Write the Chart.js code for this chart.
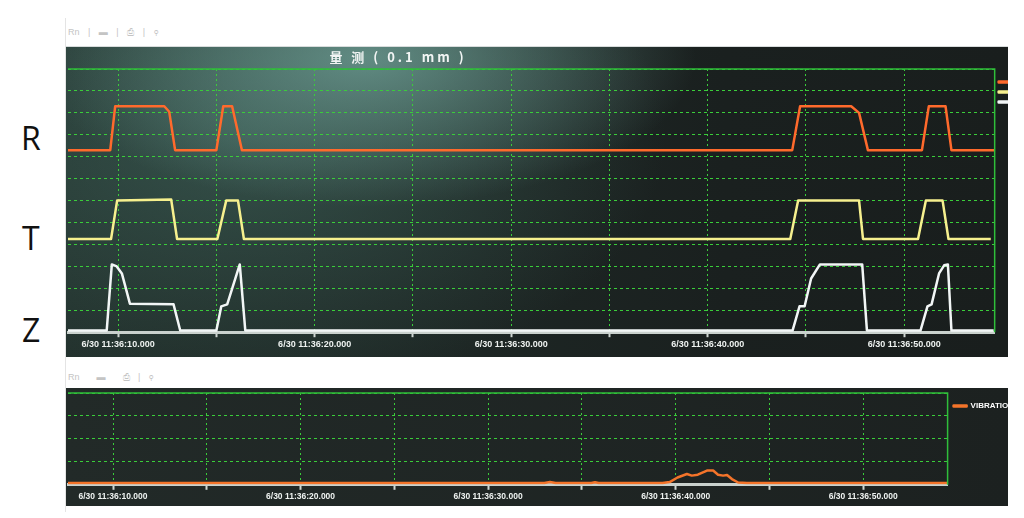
<!DOCTYPE html>
<html lang="en">
<head>
    <meta charset="UTF-8">
    <title>量测 (0.1 mm)</title>
    <style>
        body {
            margin: 0;
            width: 1024px;
            height: 518px;
            background: #ffffff;
            position: relative;
            overflow: hidden;
            font-family: "Liberation Sans", Arial, sans-serif;
        }
        .edge {
            position: absolute;
            left: 65px;
            top: 18px;
            width: 1px;
            height: 494px;
            background: #e4e4e4;
        }
        .axis-name {
            position: absolute;
            font-family: "Open Sans", sans-serif;
            font-size: 32px;
            line-height: 32px;
            color: #111;
        }
        .toolbar {
            position: absolute;
            left: 68px;
            font-size: 9px;
            color: #c4c4c4;
            word-spacing: 6px;
        }
        .panel {
            position: absolute;
            left: 66px;
            width: 942px;
            overflow: hidden;
        }
        #top-panel {
            top: 46px;
            height: 310px;
            background:
                radial-gradient(ellipse 330px 150px at 300px 10px, rgba(120, 172, 162, 0.7), rgba(120, 172, 162, 0) 100%),
                radial-gradient(ellipse 420px 260px at 180px 90px, rgba(70, 112, 102, 0.55), rgba(70, 112, 102, 0) 100%),
                linear-gradient(to right, #22302c, #1a201f 70%, #191e1d);
            border-top: 1px solid #d8dcdc;
        }
        #bottom-panel {
            top: 388px;
            height: 118px;
            background: linear-gradient(to right, #222a28, #1c2120);
        }
        .chart-box {
            position: absolute;
            left: 0;
            top: 0;
            height: 100%;
        }
        #top-title {
            position: absolute;
            left: 242px;
            top: 3px;
            width: 180px;
            text-align: center;
            color: #f2f5f4;
            font-family: "Noto Sans CJK SC", "Liberation Sans", sans-serif;
            font-weight: bold;
            font-size: 13px;
            line-height: 14px;
            letter-spacing: 3px;
            z-index: 2;
        }
    </style>
</head>
<body>
    <div class="edge"></div>
    <div class="toolbar" style="top:27px;">Rn | ▬ | ⎙ | ⚲</div>
    <div class="toolbar" style="top:372px;">Rn &nbsp;▬ &nbsp;⎙ | ⚲</div>

    <div class="axis-name" style="left:21px; top:122px;">R</div>
    <div class="axis-name" style="left:22px; top:222px;">T</div>
    <div class="axis-name" style="left:22px; top:314px;">Z</div>

    <div class="panel" id="top-panel">
        <div id="top-title">量 测 ( 0.1 mm )</div>
        <div class="chart-box" style="width:960px;"><canvas id="top-chart"></canvas></div>
    </div>
    <div class="panel" id="bottom-panel">
        <div class="chart-box" style="width:958px;"><canvas id="bottom-chart"></canvas></div>
    </div>

    <script src="https://cdn.jsdelivr.net/npm/chart.js"></script>
    <script>
        // time axis, seconds after 11:36:00
        const gridSeconds = [10, 15, 20, 25, 30, 35, 40, 45, 50];
        const tickLabels = ['6/30 11:36:10.000', '', '6/30 11:36:20.000', '', '6/30 11:36:30.000', '',
                            '6/30 11:36:40.000', '', '6/30 11:36:50.000'];

        // R trace (offset band at the top)
        const rTime = [7.45, 9.6, 9.85, 12.35, 12.6, 12.9, 15.0, 15.35, 15.8, 16.3,
                       44.3, 44.7, 47.3, 47.7, 48.15, 50.9, 51.25, 52.1, 52.4, 54.6];
        const rVal  = [8.3, 8.3, 10.3, 10.3, 10.05, 8.3, 8.3, 10.3, 10.3, 8.3,
                       8.3, 10.3, 10.3, 10.0, 8.3, 8.3, 10.3, 10.3, 8.3, 8.3];

        // T trace
        const tTime = [7.45, 9.64, 9.95, 12.7, 13.0, 15.05, 15.5, 16.1, 16.4,
                       44.2, 44.6, 47.7, 47.9, 50.7, 51.1, 51.95, 52.25, 54.4];
        const tVal  = [4.25, 4.25, 6.0, 6.05, 4.25, 4.25, 6.0, 6.0, 4.25,
                       4.25, 6.0, 6.0, 4.25, 4.25, 6.0, 6.0, 4.25, 4.25];

        // Z trace
        const zTime = [7.45, 9.42, 9.68, 9.93, 10.19, 10.6, 12.82, 13.16, 15.0, 15.25, 15.55, 16.19, 16.47,
                       44.32, 44.67, 44.93, 45.26, 45.71, 47.86, 48.1, 50.83, 51.18, 51.39, 51.77, 52.03, 52.22, 52.4, 54.55];
        const zVal  = [0.08, 0.08, 3.09, 3.0, 2.68, 1.3, 1.27, 0.08, 0.08, 1.18, 1.27, 3.09, 0.08,
                       0.08, 1.18, 1.18, 2.45, 3.09, 3.09, 0.08, 0.08, 1.18, 1.27, 2.68, 3.05, 3.09, 0.08, 0.08];

        // vibration trace (lower chart)
        const vibTime = [7.6, 33.0, 33.3, 33.6, 35.5, 35.7, 35.9, 39.3, 39.68, 40.1, 40.6, 40.86, 41.18,
                         41.67, 42.0, 42.26, 42.53, 42.74, 43.0, 43.33, 43.8, 54.5];
        const vibVal  = [0.08, 0.08, 0.12, 0.08, 0.08, 0.11, 0.08, 0.08, 0.12, 0.32, 0.47, 0.4, 0.44,
                         0.62, 0.62, 0.44, 0.4, 0.43, 0.25, 0.1, 0.08, 0.08];

        const gridGreen = 'rgb(58, 205, 58)';
        const frameGreen = '#2fbf3a';
        const labelFont = { family: '"Liberation Sans", Arial, sans-serif', weight: 'bold', size: 9 };

        function toPoints(xs, ys) {
            return xs.map((x, i) => ({ x: x, y: ys[i] }));
        }

        // solid green top + right edge of the plot area
        const framePlugin = {
            id: 'frame',
            afterDatasetsDraw(chart) {
                const a = chart.chartArea;
                const ctx = chart.ctx;
                ctx.save();
                ctx.strokeStyle = frameGreen;
                ctx.lineWidth = 1.5;
                ctx.beginPath();
                ctx.moveTo(a.left, a.top);
                ctx.lineTo(a.right, a.top);
                ctx.lineTo(a.right, a.bottom);
                ctx.stroke();
                ctx.restore();
            }
        };

        function timeAxis(min, max, fontSize) {
            return {
                type: 'linear',
                min: min,
                max: max,
                afterBuildTicks: axis => { axis.ticks = gridSeconds.map(v => ({ value: v })); },
                grid: {
                    color: gridGreen,
                    lineWidth: 1,
                    tickLength: 5,
                    tickColor: '#cfd6d2',
                    tickBorderDash: [],
                    tickWidth: 2
                },
                border: { color: '#c9d1cd', width: 3, dash: [2, 3] },
                ticks: {
                    autoSkip: false,
                    maxRotation: 0,
                    padding: 2,
                    color: '#eef2f0',
                    font: Object.assign({}, labelFont, { size: fontSize }),
                    callback: (v, i) => tickLabels[i]
                }
            };
        }

        function levelAxis(max) {
            return {
                min: 0,
                max: max,
                ticks: { display: false, stepSize: 1 },
                grid: { color: gridGreen, lineWidth: 1, drawTicks: false },
                border: { display: false, dash: [3, 3] }
            };
        }

        const lineDefaults = { pointRadius: 0, borderWidth: 2.5, tension: 0, borderJoinStyle: 'round', fill: false };

        new Chart(document.getElementById('top-chart'), {
            type: 'line',
            data: {
                datasets: [
                    Object.assign({ label: 'R', data: toPoints(rTime, rVal), borderColor: '#ff6a2c', backgroundColor: '#ff6a2c' }, lineDefaults),
                    Object.assign({ label: 'T', data: toPoints(tTime, tVal), borderColor: '#f6f08e', backgroundColor: '#f6f08e' }, lineDefaults),
                    Object.assign({ label: 'Z', data: toPoints(zTime, zVal), borderColor: '#f2f6f6', backgroundColor: '#f2f6f6' }, lineDefaults)
                ]
            },
            options: {
                responsive: true,
                maintainAspectRatio: false,
                animation: false,
                layout: { padding: { left: 2, top: 22, right: 0, bottom: 5 } },
                scales: {
                    x: timeAxis(7.45, 54.6, 9),
                    y: levelAxis(12)
                },
                plugins: {
                    tooltip: { enabled: false },
                    legend: {
                        position: 'right',
                        align: 'start',
                        title: { display: true, text: '', padding: 0, font: { size: 6, lineHeight: 1 } },
                        labels: {
                            boxWidth: 10,
                            boxHeight: 1,
                            padding: 4,
                            color: '#ffffff',
                            font: { size: 6, weight: 'bold' }
                        }
                    }
                }
            },
            plugins: [framePlugin]
        });

        new Chart(document.getElementById('bottom-chart'), {
            type: 'line',
            data: {
                datasets: [
                    Object.assign({ label: 'VIBRATION', data: toPoints(vibTime, vibVal), borderColor: '#f4742a', backgroundColor: '#f4742a' }, lineDefaults)
                ]
            },
            options: {
                responsive: true,
                maintainAspectRatio: false,
                animation: false,
                layout: { padding: { left: 2, top: 5, right: 0, bottom: 2 } },
                scales: {
                    x: timeAxis(7.6, 54.5, 8.5),
                    y: levelAxis(4)
                },
                plugins: {
                    tooltip: { enabled: false },
                    legend: {
                        position: 'right',
                        align: 'start',
                        title: { display: true, text: '', padding: 0, font: { size: 3, lineHeight: 1 } },
                        labels: {
                            boxWidth: 13,
                            boxHeight: 1,
                            padding: 6,
                            color: '#ffffff',
                            font: { size: 8, weight: 'bold' }
                        }
                    }
                }
            },
            plugins: [framePlugin]
        });
    </script>
</body>
</html>
